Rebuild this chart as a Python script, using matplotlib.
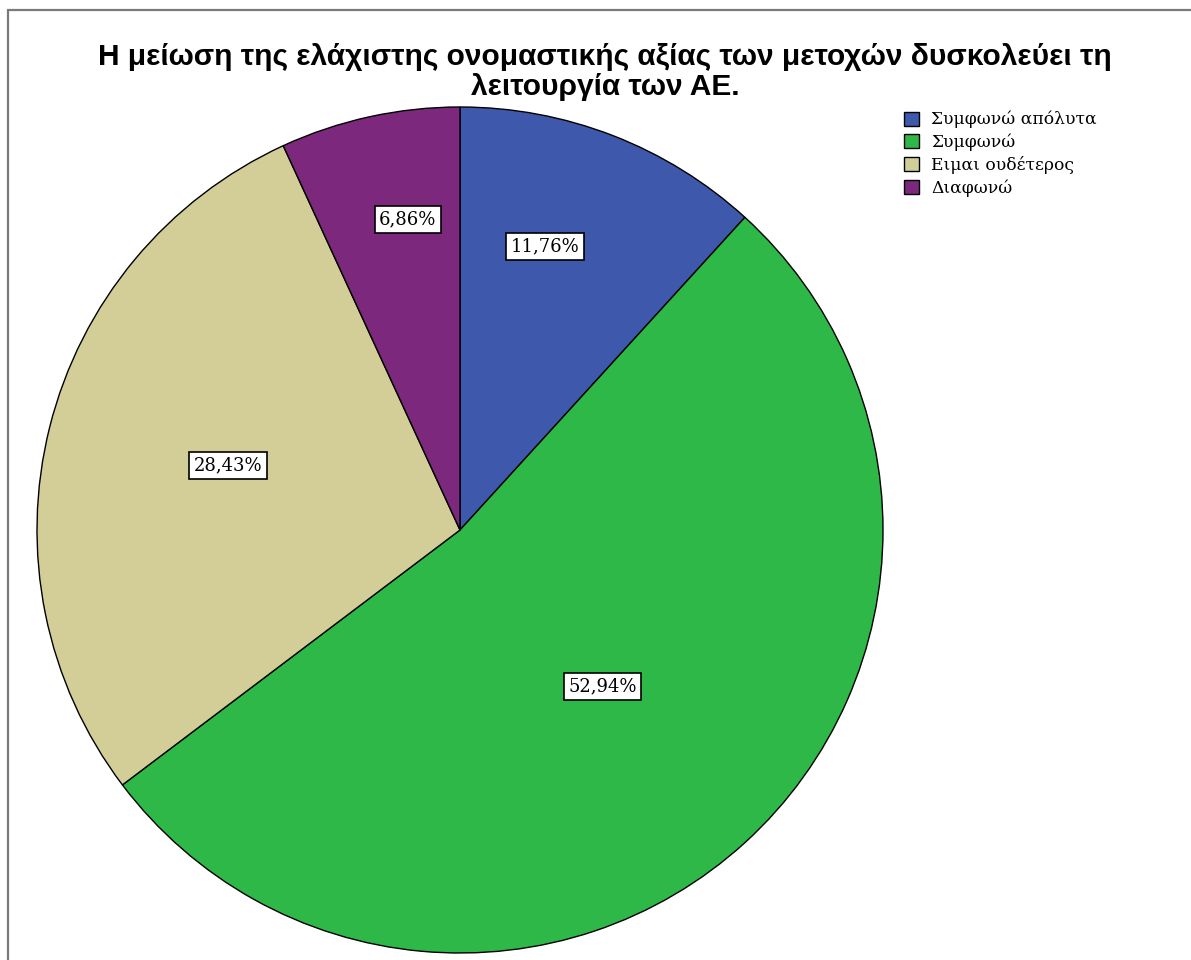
import numpy as np
import matplotlib
matplotlib.use("Agg")
import matplotlib.pyplot as plt
from matplotlib.patches import Rectangle

# data
title = "Η μείωση της ελάχιστης ονομαστικής αξίας των μετοχών δυσκολεύει τη\nλειτουργία των ΑΕ."
categories = ["Συμφωνώ απόλυτα", "Συμφωνώ", "Ειμαι ουδέτερος", "Διαφωνώ"]
percents = [11.76, 52.94, 28.43, 6.86]
colors = ["#3E58AC", "#2EB848", "#D3CE97", "#7C287D"]

# label placement tweaks (radius fraction, angle shift in degrees)
label_radius = [0.70, 0.50, 0.57, 0.745]
label_shift = [4.5, 0.0, -1.5, -2.8]

W, H = 1191, 960
fig = plt.figure(figsize=(W / 100, H / 100), dpi=100)

# frame border (only top/left visible in the crop)
fig.add_artist(Rectangle((8 / W, -0.1), 1.2, 1.1 - 10 / H, transform=fig.transFigure,
                         fill=False, edgecolor="#7a7a7a", lw=1.6))

# pie axes placed in pixels: centre ~ (460, 530), radius ~ 423
cx, cy, r = 460, 530, 423
ax = fig.add_axes([(cx - r) / W, (H - cy - r) / H, 2 * r / W, 2 * r / H])
wedges, _ = ax.pie(percents, colors=colors, startangle=90, counterclock=False,
                   wedgeprops=dict(edgecolor="black", linewidth=1.0))
ax.set_xlim(-1, 1)
ax.set_ylim(-1, 1)
ax.set_aspect("equal")
ax.axis("off")

for w, p, rr, sh in zip(wedges, percents, label_radius, label_shift):
    ang = np.deg2rad((w.theta1 + w.theta2) / 2 + sh)
    ax.text(rr * np.cos(ang), rr * np.sin(ang), f"{p:.2f}%".replace(".", ","),
            ha="center", va="center", fontsize=13, family="DejaVu Serif",
            bbox=dict(boxstyle="square,pad=0.25", fc="white", ec="black", lw=1.2))

fig.text(605 / W, 1 - 72 / H, title, ha="center", va="center", fontsize=21.5,
         fontweight="bold", family="Liberation Sans", linespacing=1.12)

leg = fig.legend(wedges, categories, loc="upper left", bbox_to_anchor=(904 / W, 1 - 111 / H),
                 frameon=False, prop={"family": "DejaVu Serif", "size": 12.3},
                 handlelength=0.9, handleheight=0.9, handletextpad=0.7, labelspacing=0.3,
                 borderaxespad=0, borderpad=0)

fig.savefig("out.png", dpi=100)
